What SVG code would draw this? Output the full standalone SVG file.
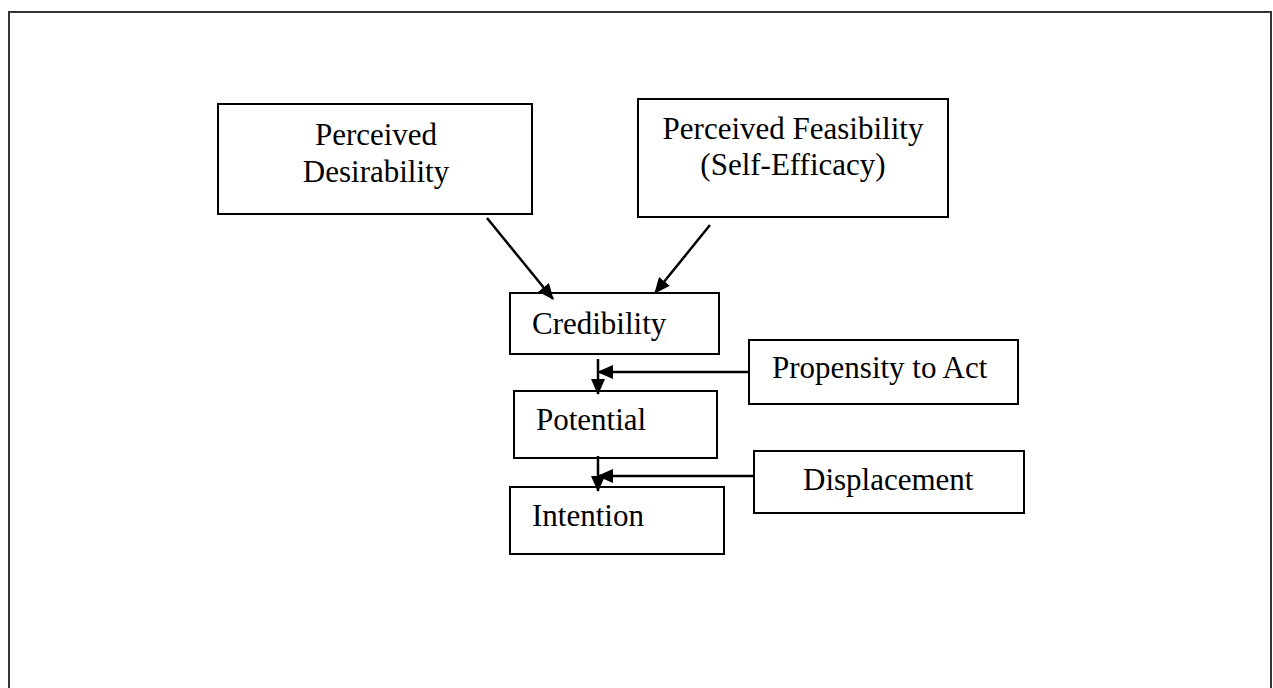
<svg xmlns="http://www.w3.org/2000/svg" width="1273" height="688" viewBox="0 0 1273 688">
<defs>
<style>
.box{fill:#fff;stroke:#000;stroke-width:2}
.t{font-family:"Liberation Serif","Times New Roman",serif;font-size:31px;fill:#000}
.c{stroke:#000;stroke-width:2.5;fill:none}
</style>
<marker id="ah" markerWidth="16" markerHeight="14" refX="15" refY="7" orient="auto" markerUnits="userSpaceOnUse">
<path d="M0,0 L16,7 L0,14 Z" fill="#000"/>
</marker>
</defs>
<rect width="1273" height="688" fill="#fff"/>
<rect x="9" y="12" width="1262" height="690" fill="none" stroke="#333" stroke-width="2"/>
<g id="desirability">
<rect class="box" x="218" y="104" width="314" height="110"/>
<text class="t" x="376" y="145" text-anchor="middle">Perceived</text>
<text class="t" x="376" y="182" text-anchor="middle">Desirability</text>
</g>
<g id="feasibility">
<rect class="box" x="638" y="99" width="310" height="118"/>
<text class="t" x="793" y="139" text-anchor="middle">Perceived Feasibility</text>
<text class="t" x="793" y="175" text-anchor="middle">(Self-Efficacy)</text>
</g>
<g id="credibility">
<rect class="box" x="510" y="293" width="209" height="61"/>
<text class="t" x="532" y="334">Credibility</text>
</g>
<g id="propensity">
<rect class="box" x="749" y="340" width="269" height="64"/>
<text class="t" x="772" y="378">Propensity to Act</text>
</g>
<g id="potential">
<rect class="box" x="514" y="391" width="203" height="67"/>
<text class="t" x="536" y="430">Potential</text>
</g>
<g id="displacement">
<rect class="box" x="754" y="451" width="270" height="62"/>
<text class="t" x="803" y="490">Displacement</text>
</g>
<g id="intention">
<rect class="box" x="510" y="487" width="214" height="67"/>
<text class="t" x="532" y="526">Intention</text>
</g>
<g id="connectors">
<line class="c" x1="487" y1="218" x2="553" y2="299" marker-end="url(#ah)"/>
<line class="c" x1="710" y1="225" x2="655" y2="293" marker-end="url(#ah)"/>
<line class="c" x1="598" y1="359" x2="598" y2="394" marker-end="url(#ah)"/>
<line class="c" x1="749" y1="372" x2="598" y2="372" marker-end="url(#ah)"/>
<line class="c" x1="598" y1="456" x2="598" y2="491" marker-end="url(#ah)"/>
<line class="c" x1="754" y1="476" x2="598" y2="476" marker-end="url(#ah)"/>
</g>
</svg>
